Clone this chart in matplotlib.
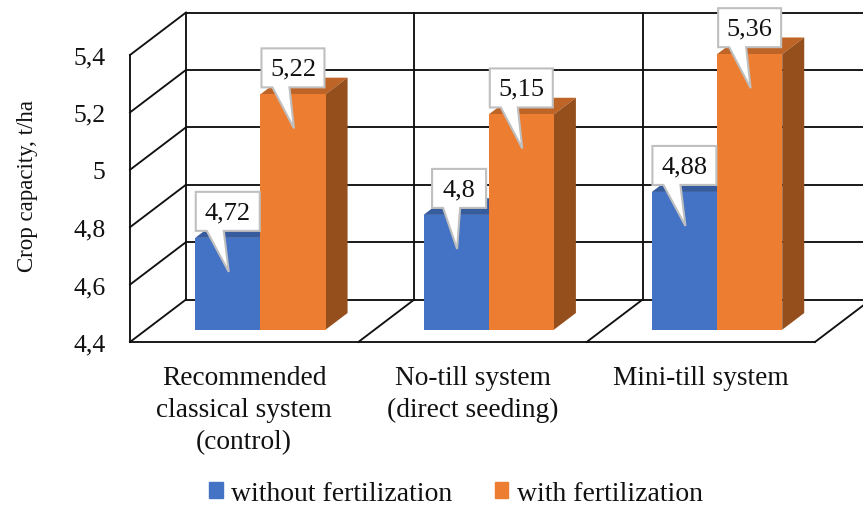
import matplotlib
matplotlib.use("Agg")
import matplotlib.pyplot as plt
from matplotlib.patches import Polygon, Patch
from matplotlib.transforms import Affine2D, IdentityTransform

categories = ["Recommended\nclassical system\n(control)", "No-till system\n(direct seeding)", "Mini-till system"]
without_fert = [4.72, 4.8, 4.88]
with_fert = [5.22, 5.15, 5.36]
value_labels_a = ["4,72", "4,8", "4,88"]
value_labels_b = ["5,22", "5,15", "5,36"]
y_ticks = [4.4, 4.6, 4.8, 5.0, 5.2, 5.4]
y_labels = ["4,4", "4,6", "4,8", "5", "5,2", "5,4"]

plt.rcParams['font.family'] = ['Liberation Serif', 'DejaVu Serif']
W, H = 863, 506
fig = plt.figure(figsize=(W / 100, H / 100), dpi=100)
L, R, T, B = 130, 815, 56, 343
ax = fig.add_axes([L / W, 1 - B / H, (R - L) / W, (B - T) / H])
ax.set_xlim(0, 3)
ax.set_ylim(4.4, 5.4)
for s in ax.spines.values():
    s.set_visible(False)
ax.patch.set_alpha(0)

INK = "#111111"
LW = 1.35
back = ax.transData + Affine2D().translate(56, 42.5)
front = ax.transData + Affine2D().translate(16.2, 12.3)
depth = Affine2D().translate(22, 16.7)
ln = dict(color=INK, lw=LW, clip_on=False, zorder=1, solid_capstyle="projecting")

# walls and floor
for v in y_ticks:
    ax.plot([0, 3], [v, v], transform=back, **ln)
for c in range(4):
    ax.plot([c, c], [4.4, 5.4], transform=back, **ln)
ax.plot([0, 0], [4.4, 5.4], **ln)
ax.plot([0, 3], [4.4, 4.4], **ln)
for v in y_ticks:
    p0 = ax.transData.transform((0, v))
    ax.plot([p0[0], p0[0] + 56], [p0[1], p0[1] + 42.5], transform=IdentityTransform(), **ln)
for c in range(1, 4):
    p0 = ax.transData.transform((c, 4.4))
    ax.plot([p0[0], p0[0] + 56], [p0[1], p0[1] + 42.5], transform=IdentityTransform(), **ln)

BW = 65.2 / (685 / 3)
COL = {"a": ("#4472C4", "#375C9E", "#2F4F88"), "b": ("#ED7D31", "#BE6427", "#954F1D")}


def bar3d(x, v, key, z):
    f, t, s = COL[key]
    ax.bar(x, v - 4.4, BW, bottom=4.4, color=f, lw=0, transform=front, zorder=z + 1, clip_on=False)
    d = front + depth
    to_px = lambda tr, pts: tr.transform(pts)
    x0, x1 = x - BW / 2, x + BW / 2
    top = list(to_px(front, [(x0, v), (x1, v)])) + list(to_px(d, [(x1, v), (x0, v)]))
    side = list(to_px(front, [(x1, 4.4), (x1, v)])) + list(to_px(d, [(x1, v), (x1, 4.4)]))
    ax.add_patch(Polygon(top, color=t, lw=0, transform=IdentityTransform(), zorder=z, clip_on=False))
    ax.add_patch(Polygon(side, color=s, lw=0, transform=IdentityTransform(), zorder=z, clip_on=False))


def callout(x, v, label, half_w, shift):
    cx, cy = front.transform((x, v))
    bx = cx + shift
    bot, topy = cy + 7, cy + 46
    base0, base1 = bx - half_w + 11, bx - half_w + 28
    pts = [(bx - half_w, bot), (base0, bot), (cx + 1, cy - 34), (base1, bot), (bx + half_w, bot),
           (bx + half_w, topy), (bx - half_w, topy)]
    ax.add_patch(Polygon(pts, closed=True, facecolor="white", edgecolor="#BFBFBF", lw=1.5, joinstyle="miter",
                         transform=IdentityTransform(), zorder=20, clip_on=False))
    ax.text(bx, (bot + topy) / 2 - 1, label, transform=IdentityTransform(), ha="center", va="center",
            fontsize=19, color=INK, zorder=21, clip_on=False)


for i in range(3):
    xa = i + 0.5 - BW / 2
    xb = i + 0.5 + BW / 2
    bar3d(xa, without_fert[i], "a", 5 + 2 * i)
    bar3d(xb, with_fert[i], "b", 6 + 2 * i)
    callout(xa, without_fert[i], value_labels_a[i], 27 if i == 1 else 32, 3 if i == 1 else 0)
    callout(xb, with_fert[i], value_labels_b[i], 31.5, 0)

ax.set_yticks(y_ticks, y_labels)
ax.set_xticks([0.5, 1.5, 2.5], categories)
ax.tick_params(axis="y", length=0, pad=17.5, labelsize=18.5, labelcolor=INK)
ax.tick_params(axis="x", length=0, pad=16.5, labelsize=19.7, labelcolor=INK)
for lab in ax.get_xticklabels():
    lab.set_linespacing(1.38)
    lab.set_va("top")
ax.set_ylabel("Crop capacity, t/ha", fontsize=16.5, color=INK)
ax.yaxis.set_label_coords((38 - L) / (R - L), (B - 186) / (B - T))

handles = [Patch(color="#4472C4", label="without fertilization"), Patch(color="#ED7D31", label="with fertilization")]
fig.legend(handles=handles, loc="center", bbox_to_anchor=(456 / W, 1 - 494.5 / H), ncol=2, frameon=False,
           fontsize=20, labelcolor=INK, handlelength=0.47, handleheight=0.47, handletextpad=0.3,
           columnspacing=1.55, borderpad=0, borderaxespad=0)

fig.savefig("out.png", dpi=100)
